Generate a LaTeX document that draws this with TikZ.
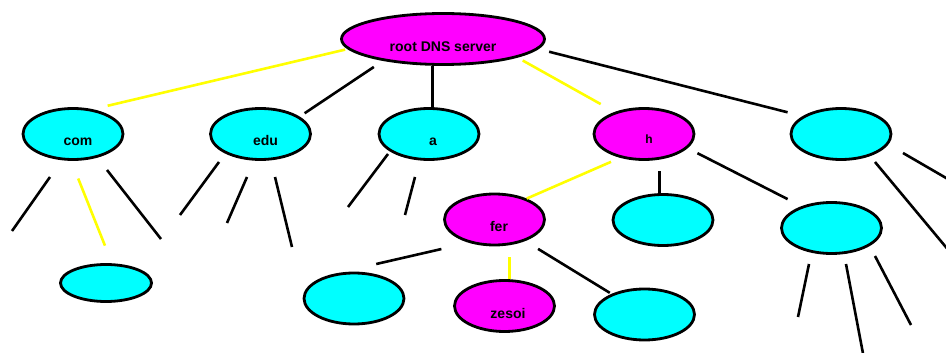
\documentclass[tikz,border=0pt]{standalone}
\usepackage{fontspec}
\setmainfont{Liberation Sans}
\usepackage{xcolor}
\definecolor{ServerMagenta}{RGB}{255,0,255}
\definecolor{ServerCyan}{RGB}{0,255,255}
\definecolor{QueryYellow}{RGB}{255,255,0}
\usepackage{tikz}
\usetikzlibrary{
    shapes.geometric
}

\begin{document}
\begin{tikzpicture}[
    x=1pt,
    y=-1pt,
    server/.style={
        ellipse,
        draw=black,
        line width=2.8pt,
        inner sep=0pt,
        minimum width=100pt,
        minimum height=51pt
    },
    tld/.style={
        server,
        fill=ServerCyan
    },
    onpath/.style={
        server,
        fill=ServerMagenta
    },
    link/.style={
        line width=2.6pt
    },
    querylink/.style={
        link,
        QueryYellow
    },
    lbl/.style={
        anchor=base,
        font=\bfseries\fontsize{14}{16}\selectfont
    }
]
%
    \useasboundingbox (0,0) rectangle (946,353);
%
    % servers, top level first
%
    \node[onpath, minimum width=203pt] (root) at (443,39) {};
    \node[tld] (com) at (73,134) {};
    \node[tld] (edu) at (260.5,134) {};
    \node[tld] (a) at (429,134) {};
    \node[onpath] (h) at (644,134) {};
    \node[tld] (other) at (841,134) {};
%
    \node[tld, minimum width=91pt, minimum height=37pt] (comsub) at (106,283) {};
    \node[onpath] (fer) at (494.5,219.5) {};
    \node[tld] (hmid) at (663,220) {};
    \node[tld] (hright) at (831.5,228) {};
    \node[tld] (ferleft) at (354,298.5) {};
    \node[onpath] (zesoi) at (504.5,306) {};
    \node[tld] (ferright) at (644.5,314.5) {};
%
    % names sit a little below the centre
%
    \node[lbl] (rootlbl) at ([yshift=-13pt]root.center) {root DNS server};
    \node[lbl] (comlbl) at ([xshift=5pt, yshift=-12pt]com.center) {com};
    \node[lbl] (edulbl) at ([xshift=5pt, yshift=-12pt]edu.center) {edu};
    \node[lbl] (albl) at ([xshift=4pt, yshift=-12pt]a.center) {a};
    \node[lbl, font=\bfseries\fontsize{12}{14}\selectfont]
        (hlbl) at ([xshift=5pt, yshift=-9pt]h.center) {h};
    \node[lbl] (ferlbl) at ([xshift=4.5pt, yshift=-12pt]fer.center) {fer};
    \node[lbl] (zesoilbl) at ([xshift=3.5pt, yshift=-12pt]zesoi.center) {zesoi};
%
    % links from the root
%
    \draw[querylink, shorten <=2.5pt, shorten >=15pt] (root.186) -- (com.51);
    \draw[link, shorten <=11pt, shorten >=6pt] (root.200) -- (edu.24);
    \draw[link] (a.82) -- (a.82 |- root.south);
    \draw[querylink, shorten <=6pt, shorten >=16pt] (root.346) -- (h.143);
    \draw[link, shorten <=11pt, shorten >=15.5pt] (root.354) -- (other.155);
%
    % links below h and fer
%
    \draw[querylink, shorten <=10pt] (h.225) -- (fer.33);
    \draw[link, shorten >=10.5pt] (hmid.97) -- (hmid.97 |- h.south);
    \draw[link, shorten <=11pt, shorten >=15.5pt] (h.342) -- (hright.144);
    \draw[querylink, shorten >=11pt] (zesoi.80) -- (zesoi.80 |- fer.south);
    \draw[link, shorten <=15pt, shorten >=2pt] (fer.325) -- (ferright.148);
    \draw[link, shorten <=28pt, shorten >=44pt] (fer.222) -- (ferleft.130);
    \draw[querylink, shorten <=19pt, shorten >=19pt] (com.266) -- (comsub.73);
%
    % loose branches
%
    \draw[link] (com.center) ++(-23,43) -- ++(-38,54);
    \draw[link] (com.center) ++(34,36) -- ++(54,69);
    \draw[link] (edu.center) ++(-41.5,28) -- ++(-39,53);
    \draw[link] (edu.center) ++(-13.5,43) -- ++(-20,46);
    \draw[link] (edu.center) ++(14.5,43) -- ++(17,70);
    \draw[link] (a.center) ++(-41,20) -- ++(-40,53);
    \draw[link] (a.center) ++(-14,43) -- ++(-10,38);
    \draw[link] (other.center) ++(34,28) -- ++(75,90);
    \draw[link] (other.center) ++(62,19) -- ++(50,29);
    \draw[link] (hright.center) ++(-22.5,36) -- ++(-11,53);
    \draw[link] (hright.center) ++(14.5,36) -- ++(19,100);
    \draw[link] (hright.center) ++(43.5,28) -- ++(36,69);
%
\end{tikzpicture}
\end{document}
